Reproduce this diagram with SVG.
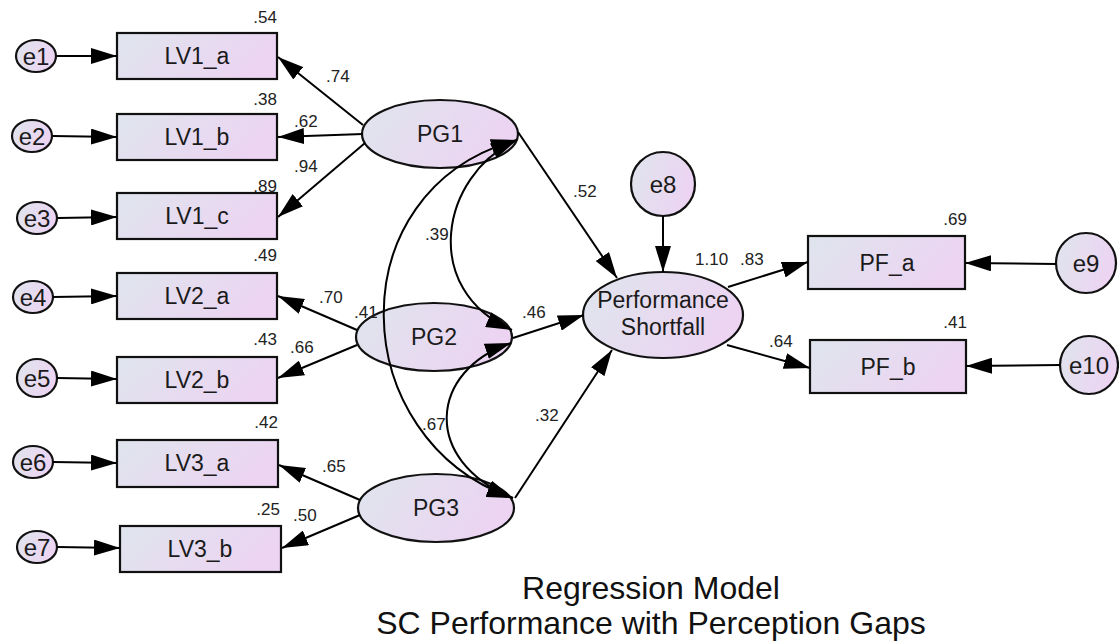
<svg xmlns="http://www.w3.org/2000/svg" width="1119" height="641" viewBox="0 0 1119 641">
<defs>
<linearGradient id="g" x1="0" y1="0" x2="1" y2="0.3">
<stop offset="0" stop-color="#dfe5ed"/>
<stop offset="1" stop-color="#ecd4f2"/>
</linearGradient>
<marker id="ah" viewBox="0 0 26 16" refX="26" refY="8" markerWidth="26" markerHeight="16" markerUnits="userSpaceOnUse" orient="auto-start-reverse">
<path d="M0,0 L26,8 L0,16 Z" fill="#000"/>
</marker>
<style>
.n{fill:url(#g);stroke:#111;stroke-width:2.2}
.t{font-family:"Liberation Sans",Arial,sans-serif;font-size:23px;fill:#1a1a1a;text-anchor:middle}
.e{font-family:"Liberation Sans",Arial,sans-serif;font-size:24px;fill:#1a1a1a;text-anchor:middle}
.v{font-family:"Liberation Sans",Arial,sans-serif;font-size:17px;fill:#222}
.r{text-anchor:end}
.c line,.c path{stroke:#000;stroke-width:2;fill:none;marker-end:url(#ah)}
.c path.d{marker-start:url(#ah)}
.ttl{font-family:"Liberation Sans",Arial,sans-serif;font-size:32px;fill:#111;text-anchor:middle}
</style>
</defs>
<rect width="1119" height="641" fill="#fff"/>

<g id="e1"><ellipse class="n" cx="36" cy="56" rx="20" ry="16"/><text class="e" x="36" y="65">e1</text></g>
<g id="e2"><ellipse class="n" cx="32" cy="136" rx="20" ry="16"/><text class="e" x="32" y="145">e2</text></g>
<g id="e3"><ellipse class="n" cx="37" cy="218" rx="20" ry="16"/><text class="e" x="37" y="227">e3</text></g>
<g id="e4"><ellipse class="n" cx="33" cy="297" rx="20" ry="16"/><text class="e" x="33" y="306">e4</text></g>
<g id="e5"><ellipse class="n" cx="37" cy="378" rx="20" ry="19"/><text class="e" x="37" y="387">e5</text></g>
<g id="e6"><ellipse class="n" cx="33" cy="462" rx="20" ry="16"/><text class="e" x="33" y="471">e6</text></g>
<g id="e7"><ellipse class="n" cx="37" cy="547" rx="20" ry="16"/><text class="e" x="37" y="556">e7</text></g>

<g id="LV1_a"><rect class="n" x="117" y="33" width="160" height="46"/><text class="t" x="197" y="64">LV1_a</text><text class="v r" x="277" y="23">.54</text></g>
<g id="LV1_b"><rect class="n" x="117" y="114" width="160" height="46"/><text class="t" x="197" y="145">LV1_b</text><text class="v r" x="277" y="105">.38</text></g>
<g id="LV1_c"><rect class="n" x="117" y="193" width="160" height="46"/><text class="t" x="197" y="224">LV1_c</text><text class="v r" x="277" y="192">.89</text></g>
<g id="LV2_a"><rect class="n" x="117" y="273" width="160" height="46"/><text class="t" x="197" y="304">LV2_a</text><text class="v r" x="277" y="261">.49</text></g>
<g id="LV2_b"><rect class="n" x="117" y="357" width="160" height="46"/><text class="t" x="197" y="388">LV2_b</text><text class="v r" x="277" y="345">.43</text></g>
<g id="LV3_a"><rect class="n" x="117" y="440" width="161" height="47"/><text class="t" x="197" y="471">LV3_a</text><text class="v r" x="278" y="428">.42</text></g>
<g id="LV3_b"><rect class="n" x="120" y="526" width="161" height="46"/><text class="t" x="200" y="557">LV3_b</text><text class="v r" x="280" y="515">.25</text></g>

<g id="PG1"><ellipse class="n" cx="440" cy="134" rx="78" ry="34"/><text class="t" x="440" y="142">PG1</text></g>
<g id="PG2"><ellipse class="n" cx="434" cy="337" rx="78" ry="34"/><text class="t" x="434" y="345">PG2</text></g>
<g id="PG3"><ellipse class="n" cx="436" cy="508" rx="78" ry="34"/><text class="t" x="436" y="516">PG3</text></g>

<g id="PerformanceShortfall"><ellipse class="n" cx="663" cy="315" rx="80" ry="43"/><text class="t" x="663" y="308">Performance</text><text class="t" x="663" y="335">Shortfall</text></g>
<g id="e8"><circle class="n" cx="663" cy="184" r="32"/><text class="e" x="663" y="193">e8</text></g>

<g id="PF_a"><rect class="n" x="808" y="236" width="157" height="53"/><text class="t" x="887" y="271">PF_a</text><text class="v r" x="967" y="225">.69</text></g>
<g id="PF_b"><rect class="n" x="810" y="340" width="156" height="53"/><text class="t" x="888" y="375">PF_b</text><text class="v r" x="967" y="328">.41</text></g>
<g id="e9"><circle class="n" cx="1086" cy="263" r="30"/><text class="e" x="1086" y="272">e9</text></g>
<g id="e10"><circle class="n" cx="1089" cy="365" r="29"/><text class="e" x="1089" y="374">e10</text></g>

<g class="c" id="connectors">
<line x1="57" y1="56" x2="117" y2="56"/>
<line x1="53" y1="136" x2="117" y2="137"/>
<line x1="58" y1="218" x2="117" y2="217"/>
<line x1="53" y1="297" x2="117" y2="296"/>
<line x1="57" y1="378" x2="117" y2="379"/>
<line x1="53" y1="462" x2="117" y2="463"/>
<line x1="57" y1="547" x2="120" y2="548"/>
<line x1="363" y1="125" x2="278" y2="57"/>
<line x1="363" y1="134" x2="278" y2="137"/>
<line x1="365" y1="143" x2="278" y2="217"/>
<line x1="357" y1="330" x2="278" y2="296"/>
<line x1="357" y1="345" x2="278" y2="378"/>
<line x1="360" y1="500" x2="279" y2="465"/>
<line x1="360" y1="515" x2="282" y2="548"/>
<line x1="518" y1="132" x2="617" y2="278"/>
<line x1="513" y1="338" x2="584" y2="315"/>
<line x1="515" y1="498" x2="612" y2="350"/>
<line x1="663" y1="216" x2="663" y2="272"/>
<line x1="728" y1="287" x2="808" y2="262"/>
<line x1="727" y1="345" x2="810" y2="368"/>
<line x1="1056" y1="264" x2="965" y2="263"/>
<line x1="1060" y1="365" x2="966" y2="366"/>
<path class="d" d="M517,140 C440,175 420,290 512,330"/>
<path class="d" d="M511,343 C430,370 420,460 513,498"/>
<path class="d" d="M517,140 C335,190 345,440 513,498"/>
</g>

<g id="path-labels">
<text class="v" x="326" y="82">.74</text>
<text class="v" x="294" y="127">.62</text>
<text class="v" x="294" y="172">.94</text>
<text class="v" x="319" y="303">.70</text>
<text class="v" x="354" y="318">.41</text>
<text class="v" x="290" y="353">.66</text>
<text class="v" x="322" y="472">.65</text>
<text class="v" x="293" y="521">.50</text>
<text class="v" x="425" y="240">.39</text>
<text class="v" x="422" y="430">.67</text>
<text class="v" x="573" y="197">.52</text>
<text class="v" x="522" y="318">.46</text>
<text class="v" x="535" y="421">.32</text>
<text class="v" x="695" y="265">1.10</text>
<text class="v" x="740" y="265">.83</text>
<text class="v" x="769" y="347">.64</text>
</g>

<g id="title">
<text class="ttl" x="651" y="599">Regression Model</text>
<text class="ttl" x="651" y="634">SC Performance with Perception Gaps</text>
</g>
</svg>
